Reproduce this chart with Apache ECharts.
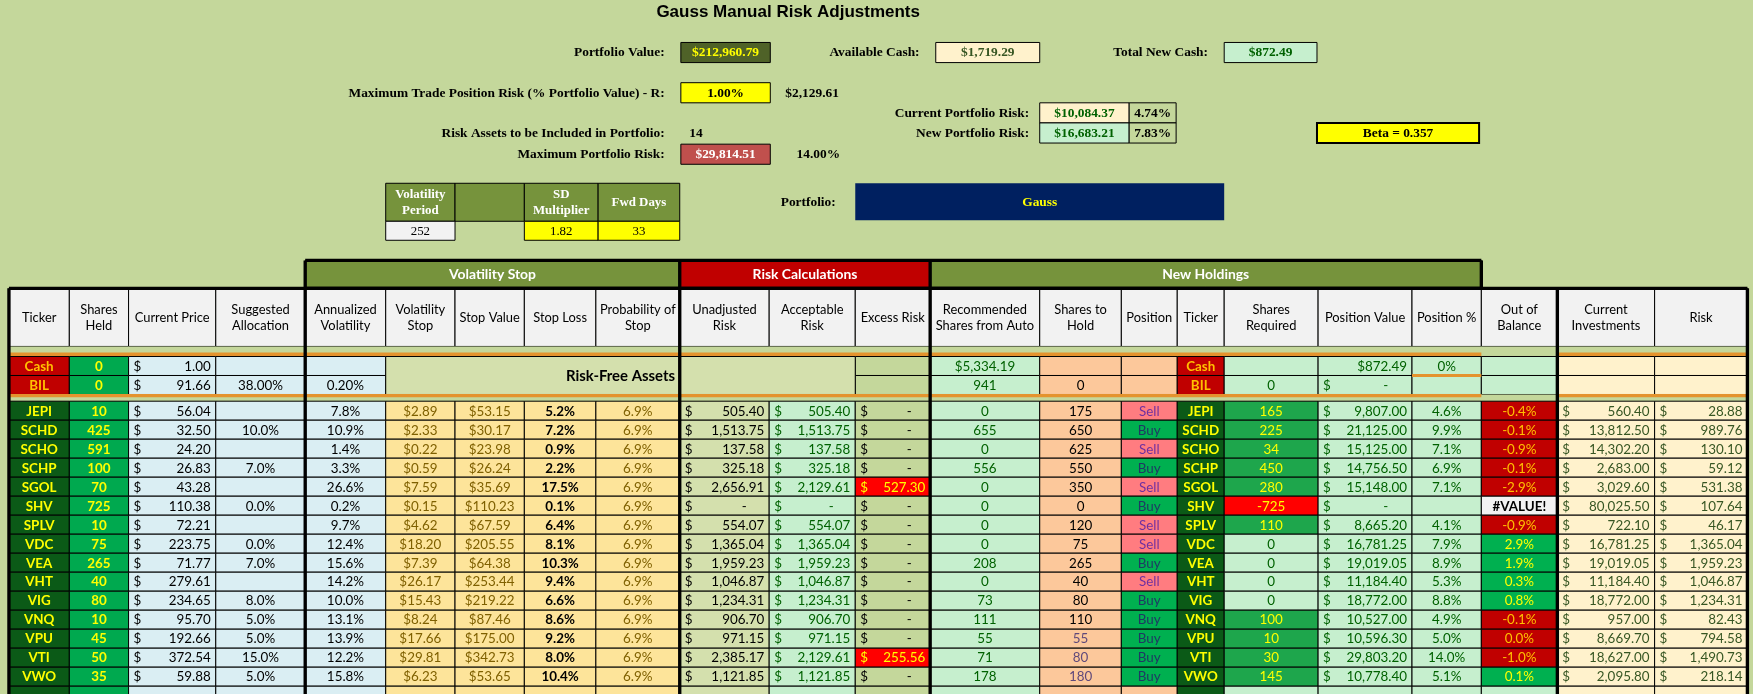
<!DOCTYPE html>
<html><head><meta charset="utf-8">
<script src="https://cdn.jsdelivr.net/npm/echarts@6/dist/echarts.min.js"></script>
<style>html,body{margin:0;padding:0;background:#c4d79b}#c{width:1753px;height:694px}</style>
</head><body><div id="c"></div>
<script>
// ---------- DATA ----------
const tickers = ['JEPI','SCHD','SCHO','SCHP','SGOL','SHV','SPLV','VDC','VEA','VHT','VIG','VNQ','VPU','VTI','VWO'];
const sharesHeld = [10,425,591,100,70,725,10,75,265,40,80,10,45,50,35];
const price = [56.04,32.50,24.20,26.83,43.28,110.38,72.21,223.75,71.77,279.61,234.65,95.70,192.66,372.54,59.88];
const suggested = [null,10.0,null,7.0,null,0.0,null,0.0,7.0,null,8.0,5.0,5.0,15.0,5.0];
const annVol = [7.8,10.9,1.4,3.3,26.6,0.2,9.7,12.4,15.6,14.2,10.0,13.1,13.9,12.2,15.8];
const volStop = [2.89,2.33,0.22,0.59,7.59,0.15,4.62,18.20,7.39,26.17,15.43,8.24,17.66,29.81,6.23];
const stopValue = [53.15,30.17,23.98,26.24,35.69,110.23,67.59,205.55,64.38,253.44,219.22,87.46,175.00,342.73,53.65];
const stopLoss = [5.2,7.2,0.9,2.2,17.5,0.1,6.4,8.1,10.3,9.4,6.6,8.6,9.2,8.0,10.4];
const probStop = [6.9,6.9,6.9,6.9,6.9,6.9,6.9,6.9,6.9,6.9,6.9,6.9,6.9,6.9,6.9];
const unadjRisk = [505.40,1513.75,137.58,325.18,2656.91,0,554.07,1365.04,1959.23,1046.87,1234.31,906.70,971.15,2385.17,1121.85];
const acceptRisk = [505.40,1513.75,137.58,325.18,2129.61,0,554.07,1365.04,1959.23,1046.87,1234.31,906.70,971.15,2129.61,1121.85];
const excessRisk = [0,0,0,0,527.30,0,0,0,0,0,0,0,0,255.56,0];
const recommended = [0,655,0,556,0,0,0,0,208,0,73,111,55,71,178];
const sharesToHold = [175,650,625,550,350,0,120,75,265,40,80,110,55,80,180];
const position = ['Sell','Buy','Sell','Buy','Sell','Buy','Sell','Sell','Buy','Sell','Buy','Buy','Buy','Buy','Buy'];
const sharesRequired = [165,225,34,450,280,-725,110,0,0,0,0,100,10,30,145];
const positionValue = [9807.00,21125.00,15125.00,14756.50,15148.00,0,8665.20,16781.25,19019.05,11184.40,18772.00,10527.00,10596.30,29803.20,10778.40];
const positionPct = [4.6,9.9,7.1,6.9,7.1,null,4.1,7.9,8.9,5.3,8.8,4.9,5.0,14.0,5.1];
const outOfBalance = ['-0.4%','-0.1%','-0.9%','-0.1%','-2.9%','#VALUE!','-0.9%','2.9%','1.9%','0.3%','0.8%','-0.1%','0.0%','-1.0%','0.1%'];
const currentInvest = [560.40,13812.50,14302.20,2683.00,3029.60,80025.50,722.10,16781.25,19019.05,11184.40,18772.00,957.00,8669.70,18627.00,2095.80];
const riskVals = [28.88,989.76,130.10,59.12,531.38,107.64,46.17,1365.04,1959.23,1046.87,1234.31,82.43,794.58,1490.73,218.14];
const headers = ['Ticker','Shares\nHeld','Current Price','Suggested\nAllocation','Annualized\nVolatility','Volatility\nStop','Stop Value','Stop Loss','Probability of\nStop','Unadjusted\nRisk','Acceptable\nRisk','Excess Risk','Recommended\nShares from Auto','Shares to\nHold','Position','Ticker','Shares\nRequired','Position Value','Position %','Out of\nBalance','Current\nInvestments','Risk'];
const groupHeaders = ['Volatility Stop','Risk Calculations','New Holdings'];
const cashRows = {ticker:['Cash','BIL'], shares:[0,0], price:[1.00,91.66], suggested:'38.00%', annVol:'0.20%', recommended:['$5,334.19','941'], hold:'0', req:'0', posValue:'$872.49', posPct:'0%'};
const summary = {portfolioValue:'$212,960.79', availableCash:'$1,719.29', totalNewCash:'$872.49', maxTradeRisk:'1.00%', maxTradeRiskAmt:'$2,129.61',
  currentRisk:'$10,084.37', currentRiskPct:'4.74%', newRisk:'$16,683.21', newRiskPct:'7.83%', riskAssets:'14', maxPortRisk:'$29,814.51', maxPortRiskPct:'14.00%',
  beta:'Beta = 0.357', volPeriod:'252', sdMult:'1.82', fwdDays:'33', portfolio:'Gauss'};

// ---------- LAYOUT (reference units 1568 x 621) ----------
const K = 1753/1568;
const cx = [8,62,115,193,273,345,407,469,533,608,688,765,832,930,1003,1053,1095,1179,1263,1325,1393,1480,1563];
const FT = 'Lato', FN = '"Liberation Sans Narrow"';
const cells = [], lines = [];
function cell(x0,y0,x1,y1,o){ cells.push(Object.assign({x0,y0,x1,y1},o||{})); }
function line(x0,y0,x1,y1,c,w){ lines.push({x0,y0,x1,y1,c,w}); }
const f2 = v => v.toLocaleString('en-US',{minimumFractionDigits:2,maximumFractionDigits:2});

// top section
cell(500,0,910,22,{text:'Gauss Manual Risk Adjustments',bold:true,size:16.5,font:'Liberation Sans',noBorder:true,align:'center'});
function label(xr,y,t){ cell(xr-400,y-9,xr,y+9,{text:t,bold:true,size:13,font:FN,noBorder:true,align:'right'}); }
function plain(x,y,t,al){ cell(x,y-9,x+60,y+9,{text:t,bold:true,size:13,font:FN,noBorder:true,align:al||'left'}); }
function box(x0,x1,y,t,fill,col,bold){ cell(x0,y-9,x1,y+9,{text:t,fill,color:col,bold:bold!==false,size:13,font:FN,align:'center'}); }
label(599,47,'Portfolio Value:'); box(609,689,47,summary.portfolioValue,'#4f6228','#ffff00');
label(827,47,'Available Cash:'); box(837,930,47,summary.availableCash,'#fff2cc','#375623');
label(1085,47,'Total New Cash:'); box(1095,1178,47,summary.totalNewCash,'#c6efce','#006100');
label(599,83,'Maximum Trade Position Risk (% Portfolio Value) - R:'); box(609,689,83,summary.maxTradeRisk,'#ffff00','#000');
plain(698,83,summary.maxTradeRiskAmt);
label(925,101,'Current Portfolio Risk:'); box(930,1010,101,summary.currentRisk,'#fff2cc','#006100'); box(1010,1052,101,summary.currentRiskPct,'#c4d79b','#000');
label(599,119,'Risk Assets to be Included in Portfolio:'); plain(612,119,summary.riskAssets);
label(925,119,'New Portfolio Risk:'); box(930,1010,119,summary.newRisk,'#c6efce','#006100'); box(1010,1052,119,summary.newRiskPct,'#c4d79b','#000');
label(599,138,'Maximum Portfolio Risk:'); box(609,689,138,summary.maxPortRisk,'#c0504d','#ffffff');
plain(708,138,summary.maxPortRiskPct);
cell(1178,110,1323,128,{text:summary.beta,fill:'#ffff00',bold:true,size:13,font:FN,align:'center',lw:2});
// small param table
cell(345,164,407,198,{text:'Volatility\nPeriod',fill:'#76933c',color:'#fff',bold:true,size:12.5,font:FN,align:'center'});
cell(407,164,469,198,{fill:'#76933c'});
cell(469,164,535,198,{text:'SD\nMultiplier',fill:'#76933c',color:'#fff',bold:true,size:12.5,font:FN,align:'center'});
cell(535,164,608,198,{text:'Fwd Days',fill:'#76933c',color:'#fff',bold:true,size:12.5,font:FN,align:'center'});
cell(345,198,407,215,{text:summary.volPeriod,fill:'#f2f2f2',size:12.5,font:FN,align:'center'});
cell(469,198,535,215,{text:summary.sdMult,fill:'#ffff00',size:12.5,font:FN,align:'center'});
cell(535,198,608,215,{text:summary.fwdDays,fill:'#ffff00',size:12.5,font:FN,align:'center'});
label(752,181,'Portfolio:');
cell(765,164,1095,197,{text:summary.portfolio,fill:'#002060',color:'#ffff00',bold:true,size:13,font:FN,align:'center',noBorder:true});

// group headers
cell(273,233,608,257,{text:groupHeaders[0],fill:'#76933c',color:'#fff',bold:true,size:13.5,align:'center'});
cell(608,233,832,257,{text:groupHeaders[1],fill:'#c00000',color:'#fff',bold:true,size:13.5,align:'center'});
cell(832,233,1325,257,{text:groupHeaders[2],fill:'#76933c',color:'#fff',bold:true,size:13.5,align:'center'});
// column headers
headers.forEach((h,i)=>cell(cx[i],258,cx[i+1],310,{text:h,fill:'#f2f2f2',size:12.5,align:'center'}));
// gap strip
cell(8,310,1563,318,{fill:'#c4d79b',noBorder:true});

// cash rows
const colFill = ['#0b5a17','#00a94f','#daeef3','#daeef3','#daeef3','#fde49a','#fde49a','#fde49a','#fde49a','#d4e0ad','#c6efce','#c4d79b','#c6efce','#fcc89b','#fcc89b','#0b5a17','#c6efce','#c6efce','#c6efce','#c6efce','#fff2cc','#fff2cc'];
for(let r=0;r<2;r++){
  const y0=319+17*r, y1=y0+17;
  cell(cx[0],y0,cx[1],y1,{text:cashRows.ticker[r],fill:'#c00000',color:'#ffc000',bold:true,align:'center'});
  cell(cx[1],y0,cx[2],y1,{text:String(cashRows.shares[r]),fill:'#00a94f',color:'#ffff00',bold:true,align:'center'});
  cell(cx[2],y0,cx[3],y1,{dollar:true,text:f2(cashRows.price[r]),fill:'#daeef3'});
  cell(cx[3],y0,cx[4],y1,{text:r?cashRows.suggested:'',fill:'#daeef3',align:'center'});
  cell(cx[4],y0,cx[5],y1,{text:r?cashRows.annVol:'',fill:'#daeef3',align:'center'});
  cell(cx[11],y0,cx[12],y1,{fill:'#c4d79b'});
  cell(cx[12],y0,cx[13],y1,{text:cashRows.recommended[r],fill:'#c6efce',color:'#006100',align:'center'});
  cell(cx[13],y0,cx[14],y1,{text:r?cashRows.hold:'',fill:'#fcc89b',align:'center'});
  cell(cx[14],y0,cx[15],y1,{fill:'#fcc89b'});
  cell(cx[15],y0,cx[16],y1,{text:cashRows.ticker[r],fill:'#c00000',color:'#ffc000',bold:true,align:'center'});
  cell(cx[16],y0,cx[17],y1,{text:r?cashRows.req:'',fill:'#c6efce',color:'#006100',align:'center'});
  if(r) cell(cx[17],y0,cx[18],y1,{dollar:true,text:'-',dashMid:true,fill:'#c6efce',color:'#006100'});
  else cell(cx[17],y0,cx[18],y1,{text:cashRows.posValue,fill:'#c6efce',color:'#006100',align:'right'});
  cell(cx[18],y0,cx[19],y1,{text:r?'':cashRows.posPct,fill:'#c6efce',color:'#006100',align:'center'});
  cell(cx[19],y0,cx[20],y1,{fill:'#c6efce'});
  cell(cx[20],y0,cx[21],y1,{fill:'#fff2cc'});
  cell(cx[21],y0,cx[22],y1,{fill:'#fff2cc'});
}
cell(cx[5],319,cx[11],353,{text:'Risk-Free Assets',fill:'#d4e0ad',bold:true,size:14.5,align:'center'});
cell(8,353,1563,359,{fill:'#c4d79b',noBorder:true});

// main rows
const pct = v => v==null?'':v.toFixed(1)+'%';
for(let i=0;i<tickers.length;i++){
  const y0=359+17*i, y1=y0+17, c=(k,o)=>cell(cx[k],y0,cx[k+1],y1,o);
  c(0,{text:tickers[i],fill:'#0b5a17',color:'#ffff00',bold:true,align:'center'});
  c(1,{text:String(sharesHeld[i]),fill:'#00a94f',color:'#ffff00',bold:true,align:'center'});
  c(2,{dollar:true,text:f2(price[i]),fill:'#daeef3'});
  c(3,{text:pct(suggested[i]),fill:'#daeef3',align:'center'});
  c(4,{text:pct(annVol[i]),fill:'#daeef3',align:'center'});
  c(5,{text:'$'+f2(volStop[i]),fill:'#fde49a',color:'#7f6000',align:'center'});
  c(6,{text:'$'+f2(stopValue[i]),fill:'#fde49a',color:'#7f6000',align:'center'});
  c(7,{text:pct(stopLoss[i]),fill:'#fde49a',bold:true,align:'center'});
  c(8,{text:pct(probStop[i]),fill:'#fde49a',color:'#7f6000',align:'center'});
  c(9,{dollar:true,text:unadjRisk[i]?f2(unadjRisk[i]):'-',dashMid:!unadjRisk[i],fill:'#d4e0ad'});
  c(10,{dollar:true,text:acceptRisk[i]?f2(acceptRisk[i]):'-',dashMid:!acceptRisk[i],fill:'#c6efce',color:'#006100'});
  if(excessRisk[i]) c(11,{dollar:true,text:f2(excessRisk[i]),fill:'#ff0000',color:'#ffff00'});
  else c(11,{dollar:true,text:'-',dashMid:true,fill:'#c4d79b'});
  c(12,{text:String(recommended[i]),fill:'#c6efce',color:'#006100',align:'center'});
  c(13,{text:String(sharesToHold[i]),fill:'#fcc89b',color:i>=12?'#60497a':'#000',align:'center'});
  const sell = position[i]==='Sell';
  c(14,{text:position[i],fill:sell?'#ff7c80':'#00b050',color:sell?'#7030a0':'#1f3864',align:'center'});
  c(15,{text:tickers[i],fill:'#0b5a17',color:'#ffff00',bold:true,align:'center'});
  const sr=sharesRequired[i];
  c(16,{text:String(sr),fill:sr<0?'#ff0000':(sr>0?'#1ea64c':'#c6efce'),color:sr===0?'#006100':'#ffff00',align:'center'});
  c(17,{dollar:true,text:positionValue[i]?f2(positionValue[i]):'-',dashMid:!positionValue[i],fill:'#c6efce',color:'#006100'});
  c(18,{text:pct(positionPct[i]),fill:'#c6efce',color:'#006100',align:'center'});
  const ob=outOfBalance[i];
  if(ob==='#VALUE!') c(19,{text:ob,fill:'#f2f2f2',bold:true,align:'center'});
  else { const neg = ob.startsWith('-')||ob==='0.0%'; c(19,{text:ob,fill:neg?'#c00000':'#00b050',color:neg?'#ffc000':'#ffff00',align:'center'}); }
  c(20,{dollar:true,text:f2(currentInvest[i]),fill:'#fff2cc',color:'#375623'});
  c(21,{dollar:true,text:f2(riskVals[i]),fill:'#fff2cc',color:'#375623'});
}
// partial trailing row
for(let k=0;k<22;k++) cell(cx[k],614,cx[k+1],625,{fill:colFill[k]});

// orange separator lines & thick borders
line(8,317,1325,317,'#e4932e',3); line(1393,317,1563,317,'#e4932e',3);
line(8,354,1325,354,'#e4932e',3); line(1393,354,1563,354,'#e4932e',3);
line(1263,336,1325,336,'#e4932e',2.5);
line(273,233,1325,233,'#000',3); line(8,258,1563,258,'#000',3);
[8,273,608,832,1563].forEach(x=>line(x,x===8||x===1563?258:233,x,625,'#000',3));
line(1325,233,1325,258,'#000',3); line(1393,258,1393,625,'#000',3);

// ---------- CHART ----------
const chart = echarts.init(document.getElementById('c'),null,{renderer:'canvas'});
function rect(api,o){ const a=api.coord([o.x0,o.y0]), b=api.coord([o.x1,o.y1]); return {x:a[0],y:a[1],w:b[0]-a[0],h:b[1]-a[1]}; }
chart.setOption({
  backgroundColor:'#c4d79b', animation:false,
  grid:{left:0,right:0,top:0,bottom:0},
  xAxis:{type:'value',min:0,max:1568,show:false},
  yAxis:{type:'value',min:0,max:621,inverse:true,show:false},
  series:[{
    type:'custom', data:cells.map(o=>[o.x0,o.y0,o.x1,o.y1]), clip:true,
    renderItem:(p,api)=>{
      const o=cells[p.dataIndex], r=rect(api,o), ch=[];
      const sz=(o.size||13)*K*0.92, font=(o.bold?'bold ':'')+sz.toFixed(1)+'px '+(o.font||FT);
      if(o.fill||!o.noBorder) ch.push({type:'rect',shape:{x:r.x,y:r.y,width:r.w,height:r.h},style:{fill:o.fill||'transparent',stroke:o.noBorder?null:'#000',lineWidth:o.lw||1}});
      const col=o.color||'#000', my=r.y+r.h/2+0.5, pad=5;
      if(o.dollar){
        ch.push({type:'text',style:{x:r.x+pad,y:my,text:'$',fill:col,font,align:'left',verticalAlign:'middle'}});
        ch.push({type:'text',style:{x:o.dashMid?r.x+r.w*0.72:r.x+r.w-pad,y:my,text:o.text,fill:col,font,align:o.dashMid?'center':'right',verticalAlign:'middle'}});
      } else if(o.text){
        const x=o.align==='left'?r.x+pad:o.align==='right'?r.x+r.w-pad:r.x+r.w/2;
        ch.push({type:'text',style:{x,y:my,text:o.text,fill:col,font,align:o.align||'center',verticalAlign:'middle',lineHeight:sz*1.25}});
      }
      return {type:'group',children:ch};
    }
  },{
    type:'custom', data:lines.map(l=>[l.x0,l.y0,l.x1,l.y1]), clip:true, z:5,
    renderItem:(p,api)=>{
      const l=lines[p.dataIndex], a=api.coord([l.x0,l.y0]), b=api.coord([l.x1,l.y1]);
      return {type:'line',shape:{x1:a[0],y1:a[1],x2:b[0],y2:b[1]},style:{stroke:l.c,lineWidth:l.w*K}};
    }
  }]
});
</script></body></html>
